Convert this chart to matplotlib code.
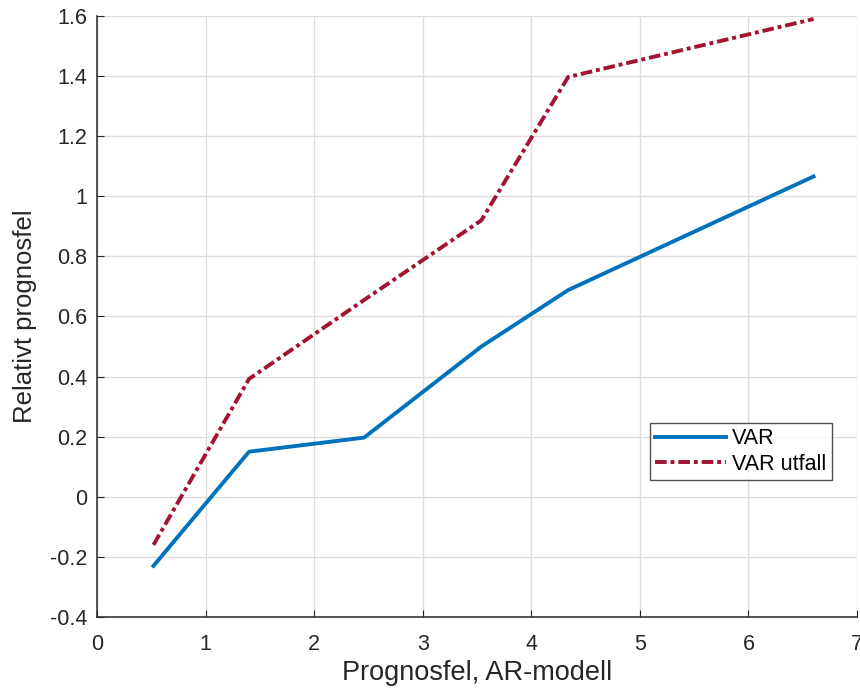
import matplotlib.pyplot as plt

plt.rcParams['font.family'] = ['Liberation Sans', 'DejaVu Sans']

# Data
x = [0.52, 1.40, 2.46, 3.54, 4.34, 6.60]
var = [-0.23, 0.15, 0.197, 0.50, 0.688, 1.066]
var_utfall = [-0.16, 0.392, 0.655, 0.92, 1.397, 1.59]
labels = ["VAR", "VAR utfall"]

fig = plt.figure(figsize=(8.6, 6.89), dpi=100)
ax = fig.add_axes([0.1128, 0.1045, 0.8837, 0.8723])

ax.plot(x, var, color="#0072BD", lw=2.8, label=labels[0])
ax.plot(x, var_utfall, color="#A2142F", lw=2.8, ls=(0, (3, 1, 1, 1)), label=labels[1])

ax.set_xlim(0, 7)
ax.set_ylim(-0.4, 1.6)
ax.set_xticks(range(0, 8))
ax.set_yticks([-0.4, -0.2, 0, 0.2, 0.4, 0.6, 0.8, 1, 1.2, 1.4, 1.6])
ax.set_yticklabels(["-0.4", "-0.2", "0", "0.2", "0.4", "0.6", "0.8", "1", "1.2", "1.4", "1.6"])

ax.grid(True, color="#dcdcdc", lw=1.0)
ax.set_axisbelow(True)
for s in ["top", "right"]:
    ax.spines[s].set_visible(False)
for s in ["left", "bottom"]:
    ax.spines[s].set_color("#262626")
    ax.spines[s].set_linewidth(1.1)
ax.tick_params(direction="in", length=5, colors="#262626", labelsize=15.5)
ax.tick_params(axis="x", pad=12)
ax.tick_params(axis="y", pad=7)

ax.set_xlabel("Prognosfel, AR-modell", fontsize=19.5, color="#262626", labelpad=4)
ax.set_ylabel("Relativt prognosfel", fontsize=18.5, color="#262626", labelpad=9)

leg = ax.legend(loc="upper left", bbox_to_anchor=(0.727, 0.323), fontsize=15.5,
                frameon=True, fancybox=False, handlelength=3.3, borderpad=0.25,
                labelspacing=0.2, handletextpad=0.3, borderaxespad=0)
leg.get_frame().set_edgecolor("#262626")
leg.get_frame().set_linewidth(1.0)

plt.savefig("out.png", dpi=100)
